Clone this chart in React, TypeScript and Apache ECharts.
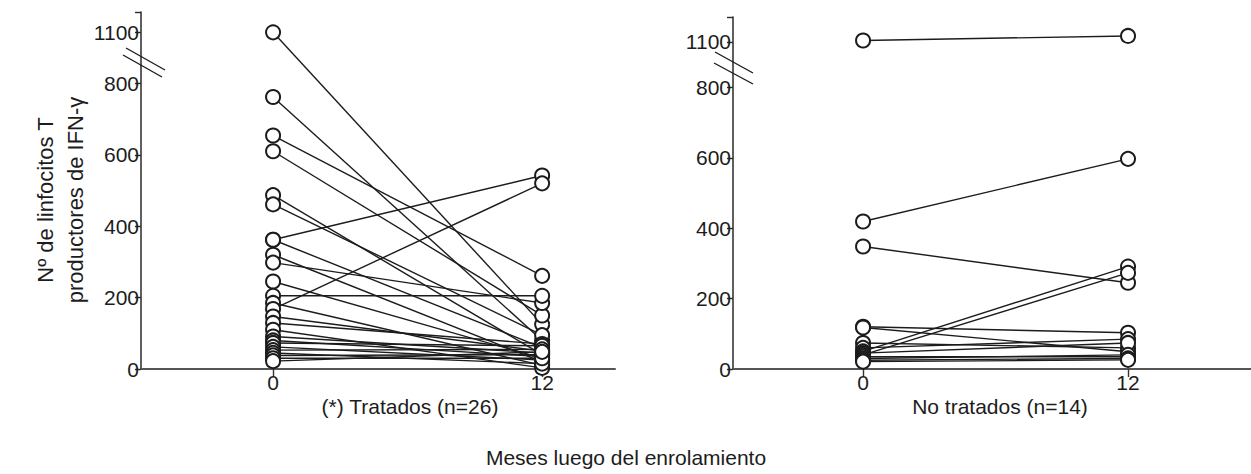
import React, { useEffect, useRef } from "react";
import * as echarts from "echarts";

// Months after enrolment at which IFN-γ producing T cells were counted
const visitMonths = [0, 12];
const yTickValues = [0, 200, 400, 600, 800];
const breakTickLabel = 1100;

// Treated patients (n=26): count at month 0 and month 12, paired by index
const treatedMonth0 = [
  1100, 762, 654, 610, 487, 461, 362, 362, 320, 298, 245, 205, 185,
  168, 147, 129, 110, 91, 80, 73, 62, 53, 45, 38, 30, 22,
];
const treatedMonth12 = [
  125, 80, 261, 150, 40, 95, 542, 60, 20, 185, 30, 205, 10,
  520, 50, 70, 3, 45, 35, 65, 25, 55, 15, 40, 30, 48,
];

// Untreated patients (n=14)
const untreatedMonth0 = [1110, 419, 348, 120, 118, 74, 60, 50, 45, 40, 35, 30, 25, 21];
const untreatedMonth12 = [1140, 597, 245, 103, 49, 60, 85, 291, 74, 273, 35, 40, 30, 26];

const FONT = "'Liberation Sans', Arial, Helvetica, sans-serif";
const INK = "#1c1c1c";

// Values above 800 are drawn on a compressed stretch of the axis (axis break)
const makeScale = (k: number) => (v: number) => (v <= 800 ? v : 800 + (v - 800) * k);
const leftScale = makeScale(0.477);
const rightScale = makeScale(0.43);

function panelAxes(gridIndex: number, scale: (v: number) => number, xMax: number) {
  const breakPos = scale(breakTickLabel);
  const xAxis = {
    type: "value",
    gridIndex,
    min: -5.89,
    max: xMax,
    splitLine: { show: false },
    axisLine: { show: true, onZero: false, lineStyle: { color: "#555", width: 2 } },
    axisTick: {
      show: true,
      customValues: visitMonths,
      length: 8,
      inside: false,
      lineStyle: { color: "#333", width: 1.4 },
    },
    axisLabel: {
      customValues: visitMonths,
      fontFamily: FONT,
      fontSize: 21,
      color: INK,
      margin: 3,
    },
  };
  const yAxis = {
    type: "value",
    gridIndex,
    min: 0,
    max: 1000,
    splitLine: { show: false },
    axisLine: { show: true, onZero: false, lineStyle: { color: "#2a2a2a", width: 1.5 } },
    axisTick: {
      show: true,
      customValues: [...yTickValues, breakPos, 1000],
      length: 6,
      lineStyle: { color: "#2a2a2a", width: 1.4 },
    },
    axisLabel: {
      customValues: [...yTickValues, breakPos],
      fontFamily: FONT,
      fontSize: 21,
      color: INK,
      margin: 2,
      formatter: (v: number) => (v > 800 ? String(breakTickLabel) : String(Math.round(v))),
    },
  };
  return { xAxis, yAxis };
}

function pairSeries(
  axisIndex: number,
  before: number[],
  after: number[],
  scale: (v: number) => number
) {
  return before.map((v0, i) => ({
    type: "line",
    xAxisIndex: axisIndex,
    yAxisIndex: axisIndex,
    data: [
      [visitMonths[0], scale(v0)],
      [visitMonths[1], scale(after[i])],
    ],
    symbol: "emptyCircle",
    symbolSize: 14,
    silent: true,
    lineStyle: { color: INK, width: 1.4 },
    itemStyle: { color: INK, borderColor: INK, borderWidth: 1.3 },
  }));
}

export default function App() {
  const ref = useRef<HTMLDivElement>(null);

  useEffect(() => {
    if (!ref.current) return;
    const chart = echarts.init(ref.current, undefined, { renderer: "svg" });
    const left = panelAxes(0, leftScale, 15.25);
    const right = panelAxes(1, rightScale, 17.57);

    const breakMark = (x1: number, y1: number, x2: number, y2: number) => ({
      type: "line",
      shape: { x1, y1, x2, y2 },
      style: { stroke: INK, lineWidth: 1.4 },
      z: 100,
    });

    const caption = (text: string, x: number, y: number) => ({
      type: "text",
      x,
      y,
      style: {
        text,
        font: `21px ${FONT}`,
        fill: INK,
        textAlign: "center",
        textVerticalAlign: "middle",
      },
    });

    chart.setOption({
      animation: false,
      backgroundColor: "#ffffff",
      grid: [
        { left: 141, right: 1251 - 615, top: 12, bottom: 105 },
        { left: 733, right: 0, top: 17, bottom: 105 },
      ],
      xAxis: [left.xAxis, right.xAxis],
      yAxis: [left.yAxis, right.yAxis],
      series: [
        ...pairSeries(0, treatedMonth0, treatedMonth12, leftScale),
        ...pairSeries(1, untreatedMonth0, untreatedMonth12, rightScale),
      ],
      graphic: [
        breakMark(126, 48, 165, 70),
        breakMark(123, 55, 162, 77),
        breakMark(715, 52, 753, 73),
        breakMark(714, 63, 753, 84),
        {
          type: "text",
          x: 60,
          y: 200,
          rotation: Math.PI / 2,
          style: {
            text: "Nº de linfocitos T\nproductores de IFN-γ",
            font: `22px ${FONT}`,
            fill: INK,
            textAlign: "center",
            textVerticalAlign: "middle",
            lineHeight: 30,
          },
        },
        caption("(*) Tratados (n=26)", 410, 406),
        caption("No tratados (n=14)", 1000, 406),
        caption("Meses luego del enrolamiento", 626, 457),
      ],
    });
    return () => chart.dispose();
  }, []);

  return (
    <div
      ref={ref}
      style={{ position: "fixed", left: 0, top: 0, width: 1251, height: 474, background: "#fff" }}
    />
  );
}
